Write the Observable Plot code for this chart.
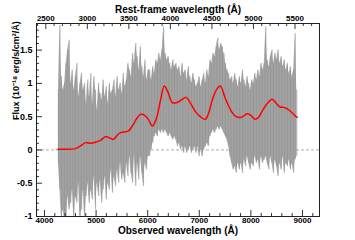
<!DOCTYPE html>
<html><head><meta charset="utf-8">
<script src="https://cdn.jsdelivr.net/npm/d3@7"></script>
<script src="https://cdn.jsdelivr.net/npm/@observablehq/plot@0.6"></script>
<style>body{margin:0;background:#fff}</style>
</head><body><div id="chart"></div>
<script>
// Observed spectrum (gray): hand-read low / high envelope per 30 Å sample
const specWave = [4270,4300,4330,4360,4390,4420,4450,4480,4510,4540,4570,4600,4630,4660,4690,4720,4750,4780,4810,4840,4870,4900,4930,4960,4990,5020,5050,5080,5110,5140,5170,5200,5230,5260,5290,5320,5350,5380,5410,5440,5470,5500,5530,5560,5590,5620,5650,5680,5710,5740,5770,5800,5830,5860,5890,5920,5950,5980,6010,6040,6070,6100,6130,6160,6190,6220,6250,6280,6310,6340,6370,6400,6430,6460,6490,6520,6550,6580,6610,6640,6670,6700,6730,6760,6790,6820,6850,6880,6910,6940,6970,7000,7030,7060,7090,7120,7150,7180,7210,7240,7270,7300,7330,7360,7390,7420,7450,7480,7510,7540,7570,7600,7630,7660,7690,7720,7750,7780,7810,7840,7870,7900,7930,7960,7990,8020,8050,8080,8110,8140,8170,8200,8230,8260,8290,8320,8350,8380,8410,8440,8470,8500,8530,8560,8590,8620,8650,8680,8710,8740,8770,8800,8830,8860,8890];
const specLow = [-0.2,-0.6,-1.05,-0.9,-1.05,-1.05,-0.7,-0.9,-0.8,-0.6,-1.05,-0.7,-0.8,-0.5,-1.05,-0.9,-0.6,-1.05,-0.7,-0.5,-0.8,-0.6,-0.75,-0.4,-0.9,-0.5,-0.7,-0.45,-0.8,-0.6,-0.4,-0.75,-0.5,-0.6,-0.3,-0.65,-0.4,-0.55,-0.3,-0.5,-0.2,-0.45,-0.35,-0.5,-0.2,-0.4,-0.1,-0.35,-0.5,-0.1,-0.55,-0.2,-0.45,-0.1,-0.35,-0.55,-0.2,-0.3,-0.1,-0.1,0.0,0.1,0.2,0.25,0.2,0.3,0.25,0.3,0.25,0.3,0.25,0.2,0.25,0.2,0.15,0.2,0.15,0.05,0.1,0.0,0.05,-0.05,0.05,-0.05,0.0,0.05,-0.05,0.0,0.05,-0.05,0.05,-0.1,0.0,-0.1,0.0,0.05,0.1,0.05,0.2,0.25,0.3,0.25,0.3,0.35,0.3,0.35,0.3,0.25,0.2,0.15,0.05,-0.1,-0.2,-0.3,-0.25,-0.35,-0.2,-0.3,-0.2,-0.35,-0.15,-0.25,-0.1,-0.2,-0.3,-0.2,-0.25,-0.1,-0.2,-0.15,-0.3,-0.1,-0.2,-0.15,-0.1,-0.2,-0.3,-0.1,-0.2,-0.35,-0.15,-0.25,-0.4,-0.2,-0.3,-0.1,-0.35,-0.2,-0.25,-0.15,-0.3,-0.2,-0.35,-0.15,-0.1];
const specHigh = [0.9,1.87,1.1,0.9,1.0,1.3,1.5,1.65,1.0,1.2,0.9,1.1,1.3,0.8,1.0,1.15,0.9,1.0,0.7,1.05,0.8,1.15,0.7,1.1,0.9,0.6,1.0,0.85,0.75,1.05,0.8,0.95,0.7,1.0,0.85,0.9,1.05,0.8,1.1,0.9,1.0,0.85,1.15,0.95,1.05,1.3,1.2,1.1,1.45,1.3,1.6,1.4,1.2,1.55,1.25,1.1,1.35,1.05,1.2,1.2,1.05,1.25,1.15,1.35,1.3,1.45,1.35,1.5,1.85,1.45,1.35,1.4,1.3,1.2,1.35,1.25,1.3,1.2,1.25,1.1,1.3,1.15,1.2,1.05,1.25,1.1,1.0,1.15,1.05,0.95,1.0,1.1,0.95,1.05,1.15,1.0,1.2,1.1,1.35,1.3,1.45,1.4,1.55,1.68,1.5,1.6,1.55,1.45,1.3,1.2,1.15,1.05,1.1,1.0,1.15,1.05,0.95,1.1,1.0,1.2,1.05,0.95,1.1,1.0,0.9,1.05,1.0,1.15,1.05,1.2,1.1,1.3,1.2,1.3,1.85,1.35,1.25,1.4,1.5,1.3,1.45,1.35,1.5,1.3,1.4,1.25,1.35,1.2,1.3,1.15,1.25,1.1,1.2,1.75,0.9];

// Smoothed fit (red)
const fitWave = [4260,4400,4600,4700,4795,4892,5000,5085,5182,5278,5336,5414,5472,5550,5627,5723,5781,5877,5955,6013,6091,6168,6246,6323,6381,6478,6555,6652,6748,6830,6922,7020,7116,7180,7251,7330,7405,7502,7570,7638,7715,7812,7928,8000,8082,8150,8218,8320,8412,8480,8566,8640,8721,8818,8876,8900];
const fitFlux = [0.01,0.01,0.02,0.06,0.11,0.10,0.12,0.145,0.20,0.175,0.16,0.225,0.26,0.27,0.285,0.385,0.465,0.54,0.51,0.46,0.36,0.47,0.74,0.96,0.89,0.71,0.71,0.75,0.79,0.70,0.58,0.50,0.46,0.55,0.75,0.90,0.96,0.78,0.66,0.56,0.50,0.49,0.545,0.52,0.46,0.49,0.58,0.70,0.76,0.71,0.645,0.64,0.61,0.545,0.50,0.49];

// Axis ticks
const obsTicks = [4000,5000,6000,7000,8000,9000];
const obsMinor = [4200,4400,4600,4800,5200,5400,5600,5800,6200,6400,6600,6800,7200,7400,7600,7800,8200,8400,8600,8800,9200];
const restTicks = [2500,3000,3500,4000,4500,5000,5500];
const restMinor = [2400,2600,2700,2800,2900,3100,3200,3300,3400,3600,3700,3800,3900,4100,4200,4300,4400,4600,4700,4800,4900,5100,5200,5300,5400,5600,5700];
const yTicks = [-1,-0.5,0,0.5,1,1.5];
const yMinor = [-0.9,-0.8,-0.7,-0.6,-0.4,-0.3,-0.2,-0.1,0.1,0.2,0.3,0.4,0.6,0.7,0.8,0.9,1.1,1.2,1.3,1.4,1.6,1.7,1.8];
const onePlusZ = 1.61;

const W = 355, H = 240, mL = 36, mR = 36, mT = 23, mB = 24;
const fw = W - mL - mR, fh = H - mT - mB;
const spec = specWave.map((w, i) => ({w, lo: specLow[i], hi: specHigh[i]}));
const fit = fitWave.map((w, i) => ({w, f: fitFlux[i]}));
const font = "'Liberation Sans', Arial, Helvetica, sans-serif";

const chart = Plot.plot({
  width: W, height: H,
  marginLeft: mL, marginRight: mR, marginTop: mT, marginBottom: mB,
  style: {fontFamily: font, fontSize: "8px", fontWeight: "bold", background: "#fff", color: "#000", overflow: "visible"},
  x: {domain: [3845, 9330]},
  y: {domain: [-1, 1.9]},
  marks: [
    Plot.ruleY([0], {stroke: "#999", strokeDasharray: "3,2", strokeWidth: 0.8}),
    Plot.areaY(spec, {x: "w", y1: "lo", y2: "hi", fill: "#acacac", clip: true}),
    Plot.ruleX(spec, {x: "w", y1: "lo", y2: "hi", stroke: "#8e8e8e", strokeWidth: 0.7, clip: true}),
    Plot.line(fit, {x: "w", y: "f", stroke: "#ff0000", strokeWidth: 1.5, curve: "catmull-rom", clip: true}),
    Plot.ruleX(obsTicks, {stroke: "#000", strokeWidth: 0.8, insetTop: fh - 6}),
    Plot.ruleX(obsMinor, {stroke: "#000", strokeWidth: 0.8, insetTop: fh - 3}),
    Plot.ruleX(restTicks.map(r => r * onePlusZ), {stroke: "#000", strokeWidth: 0.8, insetBottom: fh - 6}),
    Plot.ruleX(restMinor.map(r => r * onePlusZ), {stroke: "#000", strokeWidth: 0.8, insetBottom: fh - 3}),
    Plot.ruleY(yTicks, {stroke: "#000", strokeWidth: 0.8, insetRight: fw - 6}),
    Plot.ruleY(yMinor, {stroke: "#000", strokeWidth: 0.8, insetRight: fw - 3}),
    Plot.axisX({anchor: "bottom", ticks: obsTicks, tickSize: 0, tickPadding: 1, label: null, tickFormat: d => String(d)}),
    Plot.axisX({anchor: "top", ticks: restTicks.map(r => r * onePlusZ), tickSize: 0, tickPadding: 3, label: null, tickFormat: d => String(Math.round(d / onePlusZ))}),
    Plot.axisY({anchor: "left", ticks: yTicks, tickSize: 0, tickPadding: 4, label: null, fontSize: 9, tickFormat: d => String(d)}),
    Plot.frame({stroke: "#222", strokeWidth: 1}),
    Plot.text(["Observed wavelength (Å)"], {frameAnchor: "bottom", dy: 17, fontSize: 10, fontWeight: "bold", fill: "#000"}),
    Plot.text(["Rest-frame wavelength (Å)"], {frameAnchor: "top", dy: -18, fontSize: 10, fontWeight: "bold", fill: "#000"}),
    Plot.text(["Flux (10⁻¹⁸ erg/s/cm²/Å)"], {frameAnchor: "left", dx: -20, rotate: -90, fontSize: 9, fontWeight: "bold", fill: "#000"})
  ]
});
document.getElementById("chart").appendChild(chart);
</script>
</body></html>
